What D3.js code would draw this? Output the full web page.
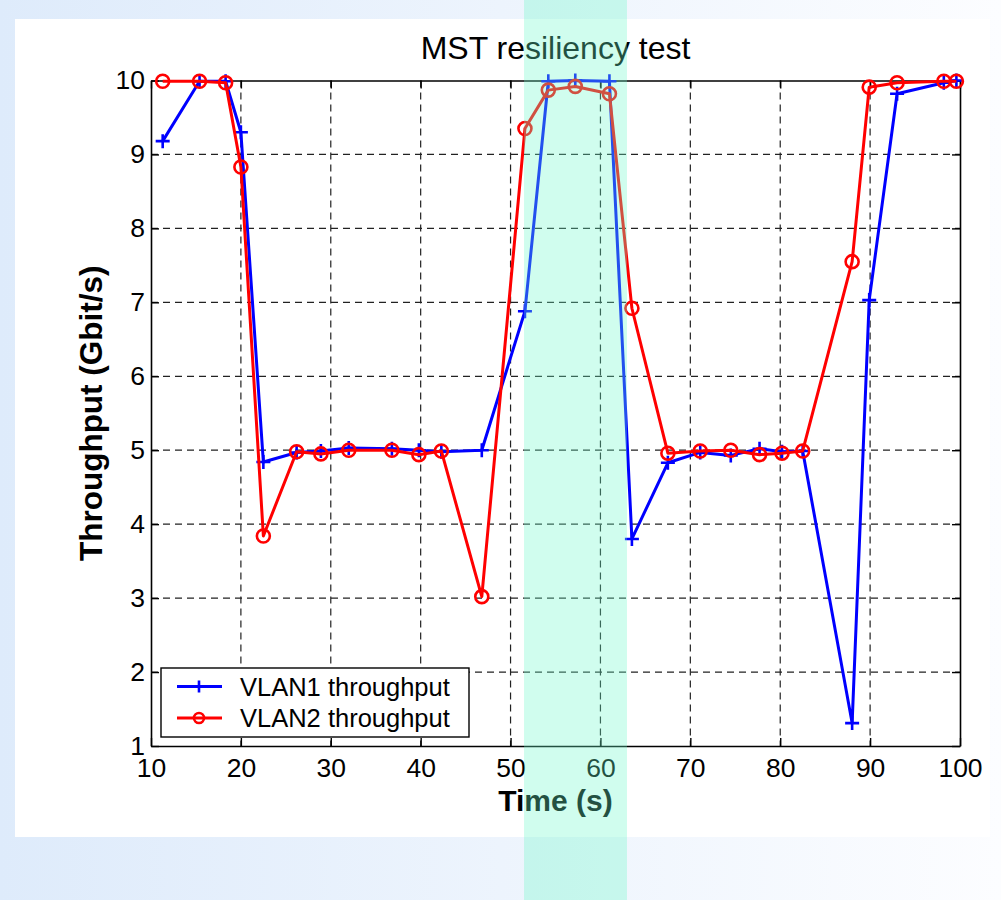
<!DOCTYPE html>
<html>
<head>
<meta charset="utf-8">
<script src="https://cdn.jsdelivr.net/npm/d3@7"></script>
<style>
  html, body { margin: 0; padding: 0; }
  svg { display: block; font-family: "Liberation Sans", Arial, sans-serif; }
</style>
</head>
<body>
<svg id="chart"></svg>
<script>
// sample times (s), shared by both series
const times  = [11.3, 15.4, 18.3, 20.0, 22.5, 26.2, 28.9, 32.0, 36.8, 39.8, 42.3, 46.8, 51.6, 54.2,
                57.2, 61.0, 63.5, 67.5, 71.1, 74.5, 77.7, 80.2, 82.5, 88.0, 89.9, 93.0, 98.2, 99.6];
const vlan1  = [9.18, 9.99, 9.99, 9.30, 4.84, 4.97, 4.99, 5.03, 5.02, 5.00, 4.98, 5.00, 6.88, 9.99,
                10.0, 9.99, 3.80, 4.83, 4.97, 4.93, 5.02, 4.98, 4.99, 1.31, 7.03, 9.82, 9.97, 10.0];
const vlan2  = [9.99, 9.99, 9.97, 8.83, 3.84, 4.98, 4.95, 5.00, 5.00, 4.94, 4.99, 3.02, 9.35, 9.87,
                9.92, 9.82, 6.92, 4.96, 4.99, 5.00, 4.94, 4.96, 4.99, 7.55, 9.91, 9.97, 9.99, 9.99];
const seriesNames = ["VLAN1 throughput", "VLAN2 throughput"];
const xTicks = [10, 20, 30, 40, 50, 60, 70, 80, 90, 100];
const yTicks = [1, 2, 3, 4, 5, 6, 7, 8, 9, 10];
const band   = [51.5, 62.95];   // highlighted time window

let width   = 1001,
    height  = 900,
    pLeft   = 151,
    pRight  = 960,
    pTop    = 80.5,
    pBottom = 746,
    x       = d3.scaleLinear().domain([10, 100]).range([pLeft, pRight]),
    y       = d3.scaleLinear().domain([1, 10]).range([pBottom, pTop]);

let svg = d3.select("#chart").attr("width", width).attr("height", height);

// background gradient + white panel
let grad = svg.append("defs").append("linearGradient").attr("id", "bg");
grad.append("stop").attr("offset", "0%").attr("stop-color", "#deebfb");
grad.append("stop").attr("offset", "100%").attr("stop-color", "#fcfdff");
svg.append("rect").attr("width", width).attr("height", height).attr("fill", "url(#bg)");
svg.append("rect").attr("x", 15).attr("y", 19).attr("width", 975).attr("height", 818).attr("fill", "#fff");

// grid
let grid = svg.append("g")
  .attr("stroke", "#222")
  .attr("stroke-width", 1.2)
  .attr("stroke-dasharray", "7,5");
grid.selectAll(".gx").data(xTicks.slice(1, -1)).enter().append("line")
  .attr("x1", d => x(d)).attr("x2", d => x(d))
  .attr("y1", pTop).attr("y2", pBottom);
grid.selectAll(".gy").data(yTicks.slice(1, -1)).enter().append("line")
  .attr("y1", d => y(d)).attr("y2", d => y(d))
  .attr("x1", pLeft).attr("x2", pRight);

// axes (inward ticks on all sides)
svg.append("g").attr("transform", `translate(0,${pBottom})`)
  .call(d3.axisBottom(x).tickValues(xTicks).tickSizeInner(-8).tickSizeOuter(0).tickPadding(12));
svg.append("g").attr("transform", `translate(0,${pTop})`)
  .call(d3.axisTop(x).tickValues(xTicks).tickSizeInner(-8).tickSizeOuter(0).tickFormat(""));
svg.append("g").attr("transform", `translate(${pLeft},0)`)
  .call(d3.axisLeft(y).tickValues(yTicks).tickSizeInner(-8).tickSizeOuter(0).tickPadding(6));
svg.append("g").attr("transform", `translate(${pRight},0)`)
  .call(d3.axisRight(y).tickValues(yTicks).tickSizeInner(-8).tickSizeOuter(0).tickFormat(""));

svg.selectAll(".domain").attr("stroke", "#000").attr("stroke-width", 1.6);
svg.selectAll(".tick line").attr("stroke", "#000").attr("stroke-width", 1.4);
svg.selectAll(".tick text").attr("font-size", 26.5).attr("fill", "#000")
  .attr("font-family", "Liberation Sans, Arial, sans-serif");

// series
let line = d3.line().x((d, i) => x(times[i])).y(d => y(d));

function plusPath(s) { return `M${-s},0H${s}M0,${-s}V${s}`; }

function drawSeries(vals, color, marker) {
  let g = svg.append("g");
  g.append("path").datum(vals)
    .attr("d", line)
    .attr("fill", "none")
    .attr("stroke", color)
    .attr("stroke-width", 3)
    .attr("stroke-linejoin", "round");
  let m = g.selectAll(".m").data(vals).enter();
  if (marker === "plus") {
    m.append("path")
      .attr("transform", (d, i) => `translate(${x(times[i])},${y(d)})`)
      .attr("d", plusPath(7))
      .attr("stroke", color).attr("stroke-width", 2.6);
  } else {
    m.append("circle")
      .attr("cx", (d, i) => x(times[i])).attr("cy", d => y(d)).attr("r", 6.5)
      .attr("fill", "none").attr("stroke", color).attr("stroke-width", 2.6);
  }
}
drawSeries(vlan1, "#0000ff", "plus");
drawSeries(vlan2, "#ff0000", "circle");

// legend
let lg = svg.append("g");
lg.append("rect").attr("x", 161).attr("y", 668).attr("width", 308).attr("height", 69)
  .attr("fill", "#fff").attr("stroke", "#000").attr("stroke-width", 1.4);
[["#0000ff", "plus"], ["#ff0000", "circle"]].forEach((s, i) => {
  let ly = 686.5 + i * 31.5;
  lg.append("line").attr("x1", 177).attr("x2", 222).attr("y1", ly).attr("y2", ly)
    .attr("stroke", s[0]).attr("stroke-width", 3);
  if (s[1] === "plus") {
    lg.append("path").attr("transform", `translate(199,${ly})`).attr("d", plusPath(6))
      .attr("stroke", s[0]).attr("stroke-width", 2.6);
  } else {
    lg.append("circle").attr("cx", 199).attr("cy", ly).attr("r", 5)
      .attr("fill", "none").attr("stroke", s[0]).attr("stroke-width", 2.6);
  }
  lg.append("text").attr("x", 240).attr("y", ly + 9).attr("font-size", 25.5)
    .text(seriesNames[i]);
});

// titles
svg.append("text").attr("x", (pLeft + pRight) / 2).attr("y", 59)
  .attr("text-anchor", "middle").attr("font-size", 32)
  .text("MST resiliency test");
svg.append("text").attr("x", (pLeft + pRight) / 2).attr("y", 811)
  .attr("text-anchor", "middle").attr("font-size", 30).attr("font-weight", "bold")
  .text("Time (s)");
svg.append("text").attr("transform", `translate(102,${(pTop + pBottom) / 2}) rotate(-90)`)
  .attr("text-anchor", "middle").attr("font-size", 31.5).attr("font-weight", "bold")
  .text("Throughput (Gbit/s)");

// translucent highlight band over everything
svg.append("rect")
  .attr("x", x(band[0])).attr("width", x(band[1]) - x(band[0]))
  .attr("y", 0).attr("height", height)
  .attr("fill", "rgb(109,250,203)").attr("fill-opacity", 0.32);
</script>
</body>
</html>
